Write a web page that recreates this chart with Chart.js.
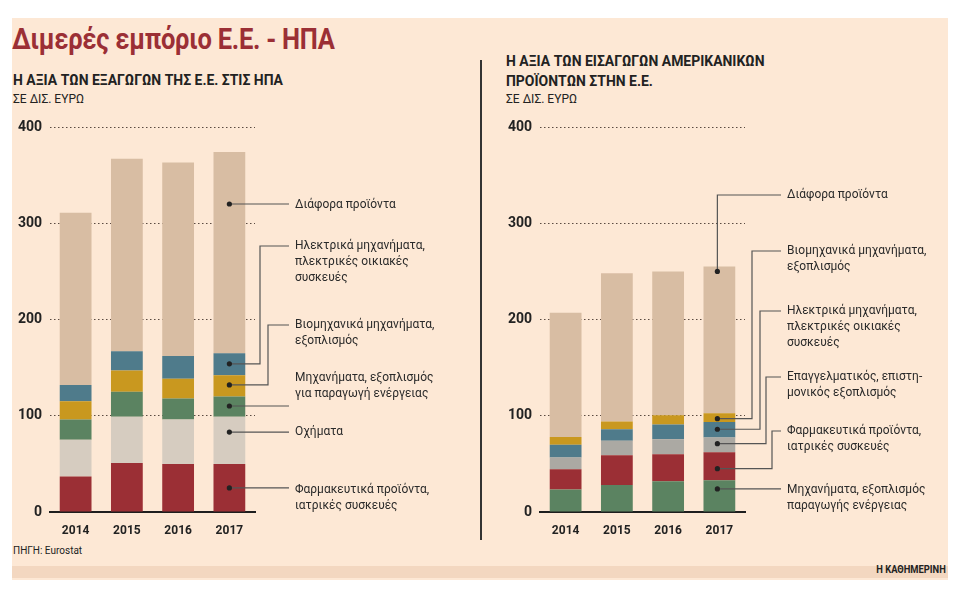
<!DOCTYPE html>
<html><head><meta charset="utf-8">
<script src="https://cdn.jsdelivr.net/npm/chart.js@4"></script>
<style>
body{margin:0;width:960px;height:600px;background:#fff;position:relative;overflow:hidden;font-family:"Roboto","Noto Sans",sans-serif;color:#222}
#panel{position:absolute;left:12px;top:18px;width:936px;height:562px;background:#fde8d5}
#strip{position:absolute;left:12px;top:566px;width:936px;height:12px;background:#f3d7c0}
.t{position:absolute;white-space:nowrap}
canvas{position:absolute}
</style></head><body>
<div id="panel"></div><div id="strip"></div>
<div class="t" style="left:12px;top:22px;font-size:29px;font-weight:bold;color:#9b2f35;transform:scaleX(0.88);transform-origin:left;letter-spacing:-0.3px">Διμερές εμπόριο Ε.Ε. - ΗΠΑ</div>
<div class="t" style="left:13px;top:71px;font-size:15px;font-weight:bold;transform:scaleX(0.93);transform-origin:left">Η ΑΞΙΑ ΤΩΝ ΕΞΑΓΩΓΩΝ ΤΗΣ Ε.Ε. ΣΤΙΣ ΗΠΑ</div>
<div class="t" style="left:13px;top:92px;font-size:12px">ΣΕ ΔΙΣ. ΕΥΡΩ</div>
<div class="t" style="left:506px;top:51px;font-size:15px;font-weight:bold;line-height:20px;transform:scaleX(0.93);transform-origin:left">Η ΑΞΙΑ ΤΩΝ ΕΙΣΑΓΩΓΩΝ ΑΜΕΡΙΚΑΝΙΚΩΝ<br>ΠΡΟΪΟΝΤΩΝ ΣΤΗΝ Ε.Ε.</div>
<div class="t" style="left:506px;top:92px;font-size:12px">ΣΕ ΔΙΣ. ΕΥΡΩ</div>
<div style="position:absolute;left:480px;top:60px;width:2px;height:480px;background:#333"></div>
<div class="t" style="left:13px;top:545px;font-size:10px">ΠΗΓΗ: Eurostat</div>
<div class="t" style="right:14px;top:563px;font-size:11px;font-weight:bold;transform:scaleX(0.85);transform-origin:right">Η ΚΑΘΗΜΕΡΙΝΗ</div>
<canvas id="c1" style="left:0;top:110px" width="480" height="430"></canvas>
<canvas id="c2" style="left:490px;top:110px" width="470" height="430"></canvas>
<script>
const years=["2014","2015","2016","2017"];
const ticks=[0,100,200,300,400];
// EU exports to US
const exPharma=[37,51,50,50];
const exVehicles=[38,48,46,49];
const exEnergyMach=[21,26,22,21];
const exIndustrial=[19,22,20.5,22];
const exElectrical=[17,20,23.5,23];
const exMisc=[179,200,201,209];
// US imports into EU
const imEnergyMach=[23.5,28,32,33];
const imPharma=[21,31,28,29];
const imProfessional=[12,15,15.5,15.5];
const imElectrical=[13.5,12,15.5,16];
const imIndustrial=[8,8,9.5,9];
const imMisc=[129,154,149.5,152.5];

const C={misc:'#d8bda3',blue:'#4f7b8b',yellow:'#c9981f',green:'#5b8361',lgray:'#d6ccc0',dgray:'#aba9a3',red:'#9b2f35'};

const leftNotes=[
 {v:320,lines:["Διάφορα προϊόντα"],ty:205,ex:null},
 {v:154,lines:["Ηλεκτρικά μηχανήματα,","πλεκτρικές οικιακές","συσκευές"],ty:246,ex:260},
 {v:132,lines:["Βιομηχανικά μηχανήματα,","εξοπλισμός"],ty:325,ex:268},
 {v:111,lines:["Μηχανήματα, εξοπλισμός","για παραγωγή ενέργειας"],ty:378,ex:null,ly:406},
 {v:83,lines:["Οχήματα"],ty:432,ex:null},
 {v:25,lines:["Φαρμακευτικά προϊόντα,","ιατρικές συσκευές"],ty:490,ex:null}
];
const rightNotes=[
 {v:250,lines:["Διάφορα προϊόντα"],ty:195,ex:722,up:true},
 {v:97,lines:["Βιομηχανικά μηχανήματα,","εξοπλισμός"],ty:251,ex:752},
 {v:86,lines:["Ηλεκτρικά μηχανήματα,","πλεκτρικές οικιακές","συσκευές"],ty:311,ex:760},
 {v:71,lines:["Επαγγελματικός, επιστη-","μονικός εξοπλισμός"],ty:377,ex:766},
 {v:45,lines:["Φαρμακευτικά προϊόντα,","ιατρικές συσκευές"],ty:431,ex:772},
 {v:24,lines:["Μηχανήματα, εξοπλισμός","παραγωγής ενέργειας"],ty:490,ex:null}
];

function notePlugin(notes,offX,textX){
 return {id:'notes',afterDraw(ch){
  const ctx=ch.ctx,ys=ch.scales.y;
  const meta=ch.getDatasetMeta(0).data[3];
  const dx=meta.x+ (notes===rightNotes?-2:0);
  const oy=110;
  ctx.save();
  ctx.strokeStyle='#555';ctx.lineWidth=1.2;ctx.fillStyle='#222';
  notes.forEach(n=>{
   const y=ys.getPixelForValue(n.v);
   const ty=n.ty-oy, tx=textX-offX, lx=tx-6;
   ctx.beginPath();
   if(n.up){ctx.moveTo(dx,y);ctx.lineTo(dx,ty);ctx.lineTo(lx,ty);}
   else if(n.ex!==null){const ex=n.ex-offX;ctx.moveTo(dx,y);ctx.lineTo(ex,y);ctx.lineTo(ex,ty);ctx.lineTo(lx,ty);}
   else{const ly=n.ly?n.ly-oy:y;ctx.moveTo(dx,ly);ctx.lineTo(lx,ly);}
   ctx.stroke();
   ctx.beginPath();ctx.arc(dx,n.ly?n.ly-oy:y,2.6,0,Math.PI*2);ctx.fill();
   ctx.font='13px "Roboto",sans-serif';ctx.textBaseline='middle';ctx.fillStyle='#2a2a2a';
   n.lines.forEach((l,i)=>{ctx.save();ctx.translate(tx,ty+i*16);ctx.scale(0.92,1);ctx.fillText(l,0,0);ctx.restore();});
   ctx.fillStyle='#222';
  });
  ctx.restore();
 }};
}

function mk(id,sets,padR,notes,offX,textX){
 new Chart(document.getElementById(id),{type:'bar',
  data:{labels:years,datasets:sets.map(s=>({data:s[0],backgroundColor:s[1],categoryPercentage:0.62,barPercentage:1}))},
  options:{responsive:false,animation:false,
   layout:{padding:{top:17,right:padR,left:0,bottom:0}},
   plugins:{legend:{display:false},tooltip:{enabled:false}},
   scales:{
    x:{stacked:true,grid:{display:false},border:{display:true,color:'#1e1e1e',width:2},
       ticks:{color:'#222',font:{size:12,weight:'bold',family:'Roboto'},padding:4},
       afterFit(s){s.height=28;}},
    y:{stacked:true,min:0,max:400,afterBuildTicks(s){s.ticks=ticks.map(v=>({value:v}));},
       border:{display:false,dash:[1.5,2.5]},
       grid:{color:c=>c.tick.value===0?'rgba(0,0,0,0)':'#5a4a40',lineWidth:1,drawTicks:false},
       ticks:{color:'#222',font:{size:14,weight:'bold',family:'Roboto'},padding:8},
       afterFit(s){s.width=50;}}
   }},
  plugins:[notePlugin(notes,offX,textX)]
 });
}
mk('c1',[[exPharma,C.red],[exVehicles,C.lgray],[exEnergyMach,C.green],[exIndustrial,C.yellow],[exElectrical,C.blue],[exMisc,C.misc]],225,leftNotes,0,295);
mk('c2',[[imEnergyMach,C.green],[imPharma,C.red],[imProfessional,C.dgray],[imElectrical,C.blue],[imIndustrial,C.yellow],[imMisc,C.misc]],215,rightNotes,490,787);
</script></body></html>
